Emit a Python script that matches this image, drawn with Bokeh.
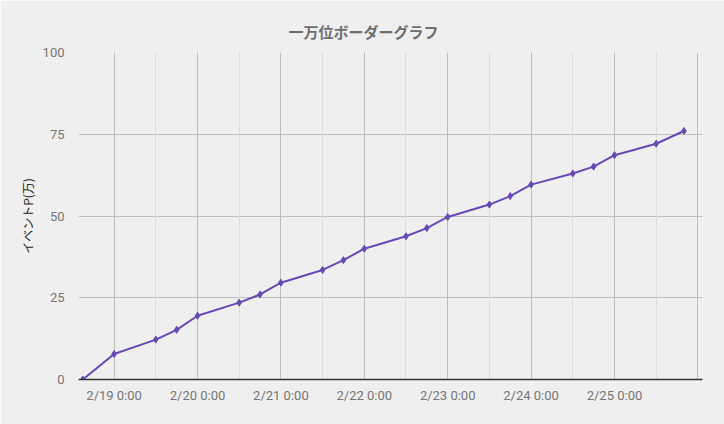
from datetime import datetime, timedelta

from bokeh.plotting import figure
from bokeh.models import Range1d, FixedTicker, DatetimeTickFormatter, Grid
from bokeh.embed import file_html
from bokeh.resources import INLINE

# 計測時刻 と 一万位のイベントP(万)
times = [
    "2019-02-18 15:00", "2019-02-19 00:00", "2019-02-19 12:00", "2019-02-19 18:00",
    "2019-02-20 00:00", "2019-02-20 12:00", "2019-02-20 18:00",
    "2019-02-21 00:00", "2019-02-21 12:00", "2019-02-21 18:00",
    "2019-02-22 00:00", "2019-02-22 12:00", "2019-02-22 18:00",
    "2019-02-23 00:00", "2019-02-23 12:00", "2019-02-23 18:00",
    "2019-02-24 00:00", "2019-02-24 12:00", "2019-02-24 18:00",
    "2019-02-25 00:00", "2019-02-25 12:00", "2019-02-25 20:00",
]
points = [
    0.0, 7.8, 12.2, 15.2,
    19.5, 23.5, 26.0,
    29.6, 33.5, 36.5,
    40.0, 43.8, 46.3,
    49.7, 53.5, 56.1,
    59.6, 63.0, 65.1,
    68.6, 72.1, 76.0,
]
y_ticks = [0, 25, 50, 75, 100]
label_days = ["2019-02-19", "2019-02-20", "2019-02-21", "2019-02-22",
              "2019-02-23", "2019-02-24", "2019-02-25"]
grid_days = label_days + ["2019-02-26"]

x = [datetime.strptime(t, "%Y-%m-%d %H:%M") for t in times]


def ms(d):
    return (d - datetime(1970, 1, 1)).total_seconds() * 1000


days = [datetime.strptime(d, "%Y-%m-%d") for d in grid_days]
label_ticks = [ms(datetime.strptime(d, "%Y-%m-%d")) for d in label_days]
major_grid = [ms(d) for d in days]
minor_grid = [ms(d - timedelta(hours=12)) for d in days]

bg = "#efefef"
p = figure(width=724, height=424, x_axis_type="datetime",
           output_backend="svg", toolbar_location=None,
           title="一万位ボーダーグラフ",
           x_range=Range1d(datetime(2019, 2, 18, 13, 45), datetime(2019, 2, 26, 1, 20)),
           y_range=Range1d(0, 100),
           min_border_left=78, min_border_right=22,
           min_border_top=52, min_border_bottom=45)
p.background_fill_color = bg
p.border_fill_color = bg
p.outline_line_color = None

p.title.align = "left"
p.title.offset = 210
p.title.text_font = "Noto Sans CJK JP"
p.title.text_font_size = "15px"
p.title.text_font_style = "bold"
p.title.text_color = "#6e6e6e"
p.title.standoff = 22

# x軸
xa = p.xaxis[0]
xa.ticker = FixedTicker(ticks=label_ticks, minor_ticks=[])
xa.formatter = DatetimeTickFormatter(days="%-m/%-d %-H:%M", hours="%-m/%-d %-H:%M")
xa.axis_line_color = "#333333"
xa.axis_line_width = 1.5
xa.major_tick_line_color = None
xa.minor_tick_line_color = None
xa.major_label_standoff = 2
xa.major_label_text_font = "Roboto"
xa.major_label_text_font_size = "13px"
xa.major_label_text_color = "#757575"

# y軸
ya = p.yaxis[0]
ya.ticker = FixedTicker(ticks=y_ticks)
ya.axis_line_color = None
ya.major_tick_line_color = None
ya.minor_tick_line_color = None
ya.major_label_standoff = 8
ya.major_label_text_font = "Roboto"
ya.major_label_text_font_size = "13px"
ya.major_label_text_color = "#757575"
ya.axis_label = "イベントP(万)"
ya.axis_label_text_font = "Noto Sans CJK JP"
ya.axis_label_text_font_style = "normal"
ya.axis_label_text_font_size = "12px"
ya.axis_label_text_color = "#222222"
ya.axis_label_standoff = 4

# グリッド
p.xgrid.visible = False
p.add_layout(Grid(dimension=0, ticker=FixedTicker(ticks=major_grid, minor_ticks=minor_grid),
                  grid_line_color="#bdbdbd", minor_grid_line_color="#dcdcdc"))
p.ygrid.grid_line_color = "#bdbdbd"

p.line(x, points, line_color="#6849b4", line_width=2)
p.scatter(x, points, marker="diamond", size=7, fill_color="#6849b4", line_color="#6849b4")

open("out.html", "w").write(file_html(p, INLINE))
